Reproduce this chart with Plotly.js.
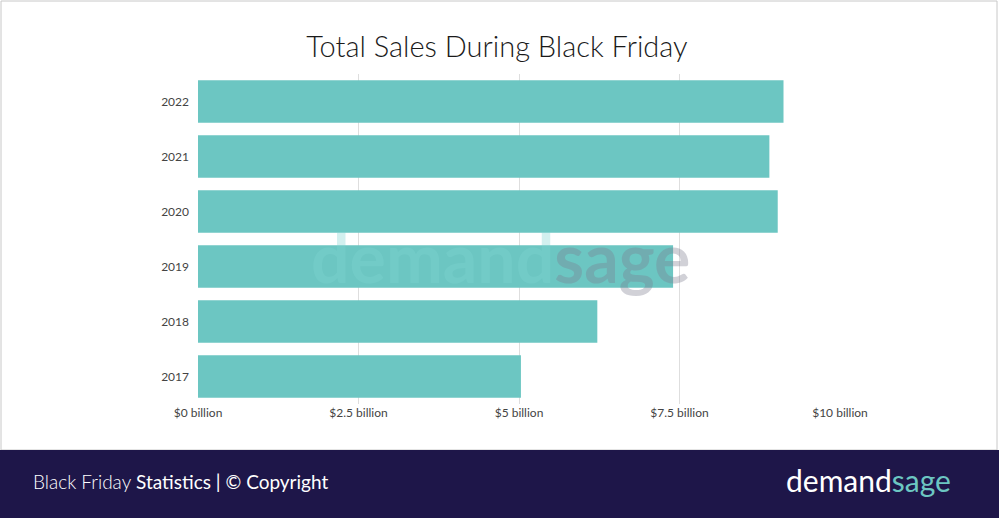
<!DOCTYPE html>
<html>
<head>
<meta charset="utf-8">
<script src="https://cdn.plot.ly/plotly-3.0.1.min.js"></script>
<style>
  html, body { margin: 0; padding: 0; background: #ffffff; }
  #chart { width: 999px; height: 518px; }
</style>
</head>
<body>
<div id="chart"></div>
<script>
// Black Friday online sales, billions USD
const years = ["2017", "2018", "2019", "2020", "2021", "2022"];
const sales = [5.03, 6.22, 7.4, 9.03, 8.9, 9.12];
const tickVals = [0, 2.5, 5, 7.5, 10];
const tickText = ["$0 billion", "$2.5 billion", "$5 billion", "$7.5 billion", "$10 billion"];

const W = 999, H = 518;
const M = { l: 198, r: 159, t: 74, b: 114 };

// pixel -> paper coords (paper = plot area)
function px(x) { return (x - M.l) / (W - M.l - M.r); }
function py(y) { return (H - M.b - y) / (H - M.t - M.b); }

const teal = "#6cc6c2";
const navy = "#1e1649";

const trace = {
  type: "bar",
  orientation: "h",
  x: sales,
  y: years,
  marker: { color: teal },
  hoverinfo: "none"
};

const layout = {
  width: W,
  height: H,
  margin: M,
  paper_bgcolor: "#ffffff",
  plot_bgcolor: "#ffffff",
  font: { family: "Lato, 'Open Sans', sans-serif", color: "#444" },
  title: {
    text: "Total Sales During Black Friday",
    x: 497 / W, xref: "container", xanchor: "center",
    y: 1 - 47 / H, yref: "container", yanchor: "middle",
    font: { size: 29, color: "#1a1a1a", family: "Lato, sans-serif", weight: 300 }
  },
  bargap: 0.23,
  xaxis: {
    range: [0, 10],
    tickvals: tickVals,
    ticktext: tickText,
    showgrid: true,
    gridcolor: "#dedede",
    zeroline: false,
    showline: false,
    ticks: "",
    tickfont: { size: 12, color: "#444" },
    fixedrange: true
  },
  yaxis: {
    showgrid: false,
    zeroline: false,
    showline: false,
    ticks: "",
    ticklabelstandoff: 8,
    tickfont: { size: 12, color: "#444" },
    fixedrange: true
  },
  shapes: [
    // card border
    { type: "rect", xref: "paper", yref: "paper", layer: "below",
      x0: px(1), x1: px(997), y0: py(1), y1: py(450),
      line: { color: "#c8c8c8", width: 1 }, fillcolor: "rgba(0,0,0,0)" },
    // footer band
    { type: "rect", xref: "paper", yref: "paper",
      x0: px(0), x1: px(999), y0: py(450), y1: py(518),
      line: { width: 0 }, fillcolor: navy }
  ],
  annotations: [
    // watermark
    { xref: "paper", yref: "paper", x: px(500), y: py(256), xanchor: "center", yanchor: "middle",
      showarrow: false,
      text: "<span style='color:#7fd6d2'>demand</span><span style='color:#7d7d90'>sage</span>",
      font: { size: 68, family: "Lato, sans-serif", weight: 700 }, opacity: 0.35 },
    // footer left
    { xref: "paper", yref: "paper", x: px(31), y: py(481), xanchor: "left", yanchor: "middle",
      showarrow: false,
      text: "<span style='font-weight:300'>Black Friday</span> Statistics | © Copyright",
      font: { size: 19, color: "#ffffff", family: "Lato, sans-serif" } },
    // footer logo
    { xref: "paper", yref: "paper", x: px(953), y: py(480), xanchor: "right", yanchor: "middle",
      showarrow: false,
      text: "<span style='color:#ffffff'>demand</span><span style='color:" + teal + "'>sage</span>",
      font: { size: 30, family: "Lato, sans-serif" } }
  ],
  showlegend: false
};

Plotly.newPlot("chart", [trace], layout, { displayModeBar: false, staticPlot: true });
</script>
</body>
</html>
